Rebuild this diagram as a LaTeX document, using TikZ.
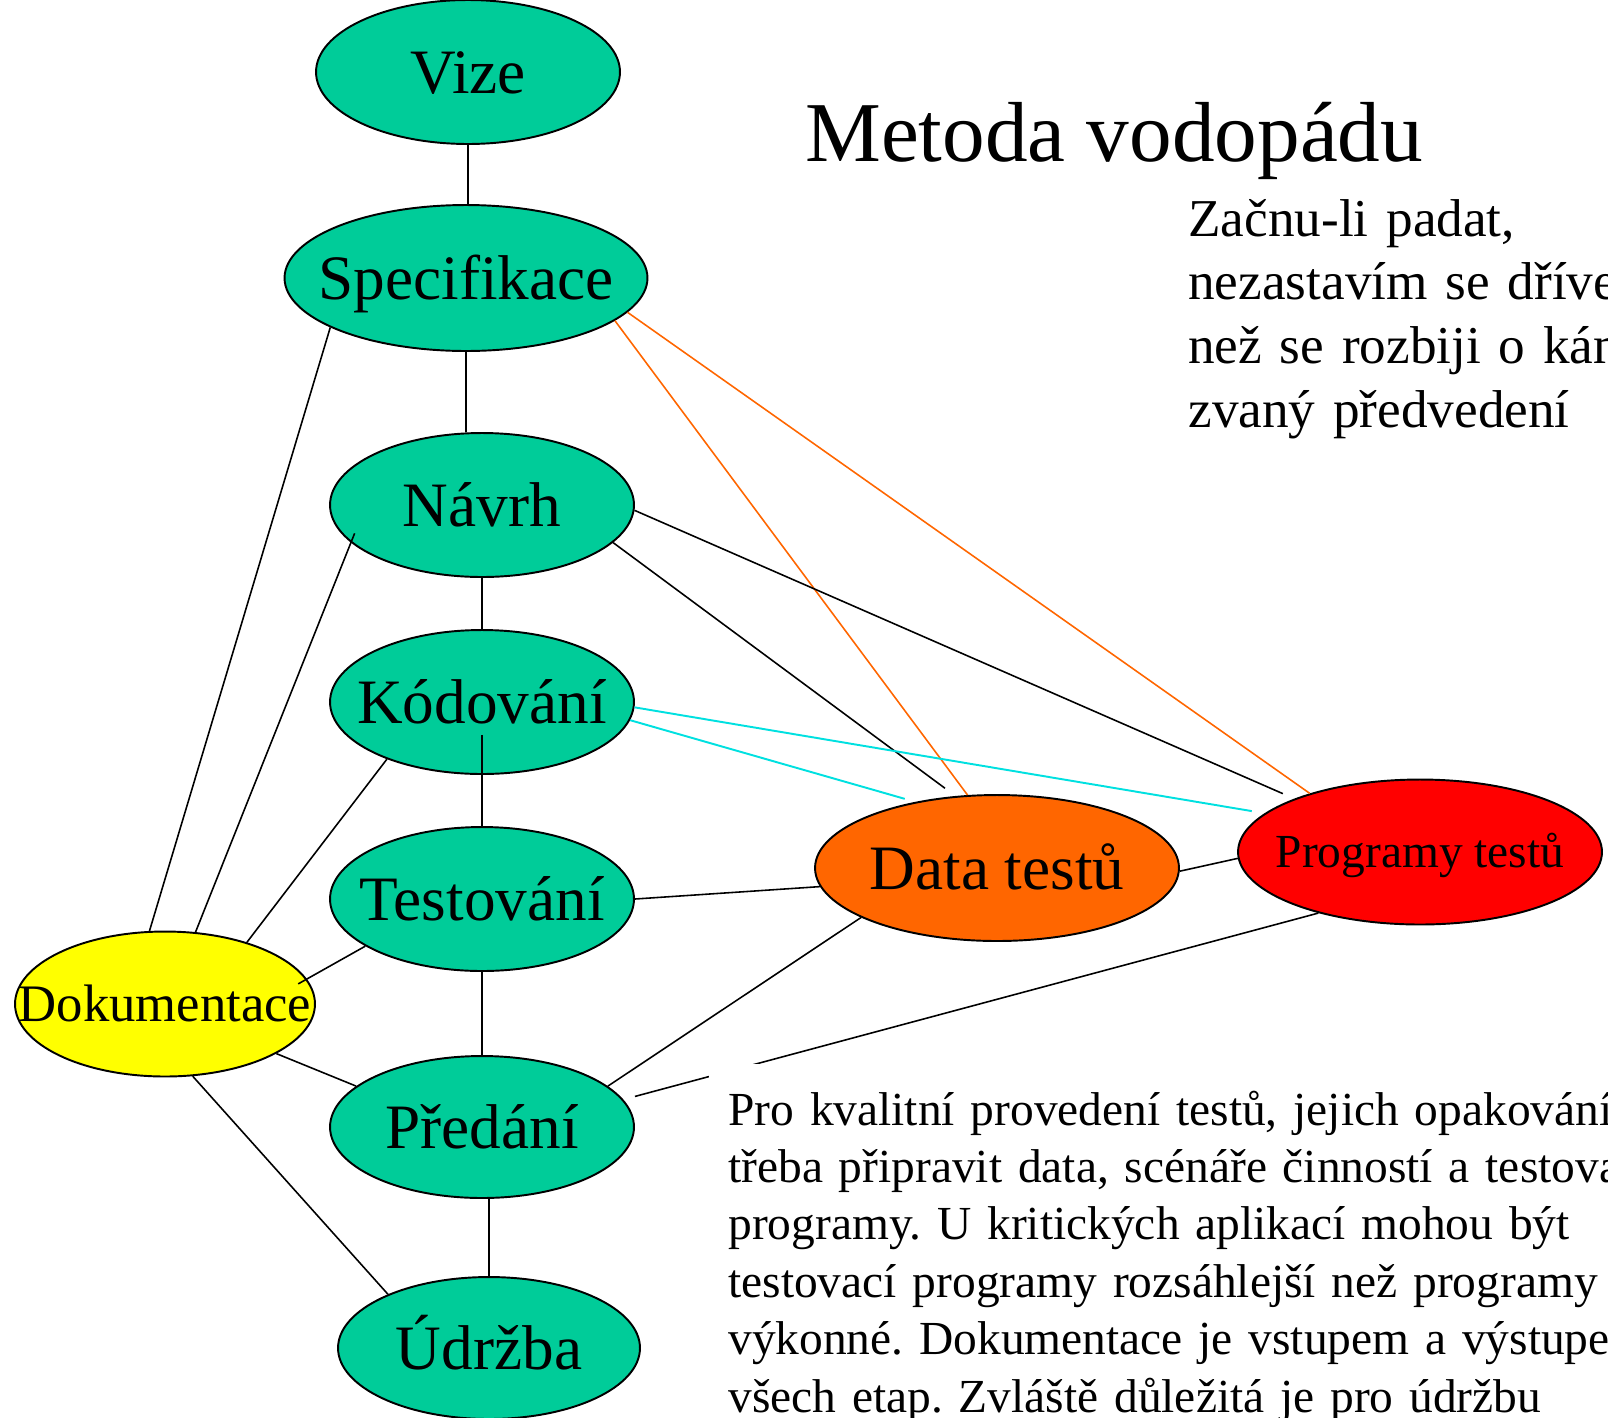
\documentclass[tikz,border=0pt]{standalone}
\usepackage{fontspec}
\setmainfont{Liberation Serif}
\usetikzlibrary{shapes.geometric}
\definecolor{phasegreen}{HTML}{00CC99}
\definecolor{docyellow}{HTML}{FFFF00}
\definecolor{dataorange}{HTML}{FF6600}
\definecolor{progred}{HTML}{FF0000}
\definecolor{linkcyan}{HTML}{00E0E0}
\newcommand{\ovaltext}[1]{\makebox[0pt]{#1}}
\frenchspacing

\begin{document}
\begin{tikzpicture}[x=0.02cm, y=-0.02cm,
    phase/.style={draw, ellipse, line width=1.1pt, fill=phasegreen, inner sep=0pt, minimum width=6.08cm, minimum height=2.88cm, font=\fontsize{36}{43}\selectfont, text height=28pt, text depth=4pt},
    link/.style={line width=0.9pt},
    hotlink/.style={link, draw=dataorange},
    coldlink/.style={link, draw=linkcyan, line width=1.1pt}]
    \useasboundingbox (0,0) rectangle (1608,1417);

    \node[phase] (vize) at (468,72) {\ovaltext{Vize}};
    \node[phase, minimum width=7.26cm, minimum height=2.92cm] (spec) at (466,278) {\ovaltext{Specifikace}};
    \node[phase] (navrh) at (482,505) {\ovaltext{Návrh}};
    \node[phase] (kod) at (482,702) {\ovaltext{Kódování}};
    \node[phase] (test) at (482,899) {\ovaltext{Testování}};
    \node[phase, minimum height=2.84cm] (pred) at (482,1127) {\ovaltext{Předání}};
    \node[phase, minimum width=6.04cm, minimum height=2.84cm] (udrz) at (489,1348) {\ovaltext{Údržba}};
    \node[phase, fill=docyellow, minimum width=6cm, minimum height=2.9cm, font=\fontsize{30}{36}\selectfont, text height=23pt, text depth=3pt] (dok) at (165,1004) {\ovaltext{Dokumentace}};
    \node[phase, fill=dataorange, minimum width=7.28cm, minimum height=2.92cm] (data) at (997,868) {\ovaltext{Data testů}};
    \node[phase, fill=progred, minimum width=7.28cm, minimum height=2.9cm, font=\fontsize{27}{32}\selectfont, text height=21pt, text depth=3pt] (prog) at (1420,852) {\ovaltext{Programy testů}};

    \node[anchor=base west, inner sep=0pt, font=\fontsize{48.5}{58}\selectfont] (title) at (805,161) {Metoda vodopádu};
    \node[anchor=base west, inner sep=0pt, text width=16cm, align=left, font=\fontsize{30.3}{36.4}\selectfont] (motto) at (1188,236)
        {Začnu-li padat,\\ nezastavím se dříve\\ než se rozbiji o kámen\\ zvaný předvedení};

    % hlavni vetev
    \draw[link] (vize.south) -- (vize.south |- spec.north);
    \draw[link] (spec.south) -- (spec.south |- navrh.north);
    \draw[link] (navrh) -- (kod);
    \draw[link] ([yshift=0.8cm]kod.south) -- (test.north);
    \draw[link] (test) -- (pred);
    \draw[link] (udrz.north |- pred.south) -- (udrz.north);

    % dokumentace
    \draw[link] (spec.200) -- (dok.102);
    \draw[link, shorten <=-0.2cm] (navrh.196) -- (dok.67);
    \draw[link] (kod.211) -- (dok.37);
    \draw[link, shorten >=-0.2cm] (test.202) -- (dok.10);
    \draw[link] (pred.162) -- (dok.-24);
    \draw[link] (udrz.152) -- (dok.-69);

    % testy
    \draw[hotlink] (spec.-12) -- (prog.152);
    \draw[hotlink] (spec.-16) -- (data.112);
    \draw[link, shorten >=0.26cm] (navrh.-16) -- (data.120);
    \draw[link, shorten >=0.25cm] (navrh.-2) -- (prog.157);
    \draw[coldlink, shorten >=0.22cm] (kod.-7) -- (data.141);
    \draw[coldlink, shorten >=0.26cm] (kod.-2) -- (prog.166);
    \draw[link] (test.east) -- (data.186);
    \draw[link] (data.-1) -- (prog.182);
    \draw[link] (data.200) -- (pred.18);
    \draw[link, shorten >=0.24cm] (prog.211) -- (pred.11);

    \node[anchor=base west, fill=white, inner xsep=0.38cm, inner ysep=0.54cm, text width=20cm, align=left, font=\fontsize{27}{32.7}\selectfont] (note) at (709,1125)
        {Pro kvalitní provedení testů, jejich opakování\\
         třeba připravit data, scénáře činností a testovací\\
         programy. U kritických aplikací mohou být\\
         testovací programy rozsáhlejší než programy\\
         výkonné. Dokumentace je vstupem a výstupem\\
         všech etap. Zvláště důležitá je pro údržbu};
\end{tikzpicture}
\end{document}
